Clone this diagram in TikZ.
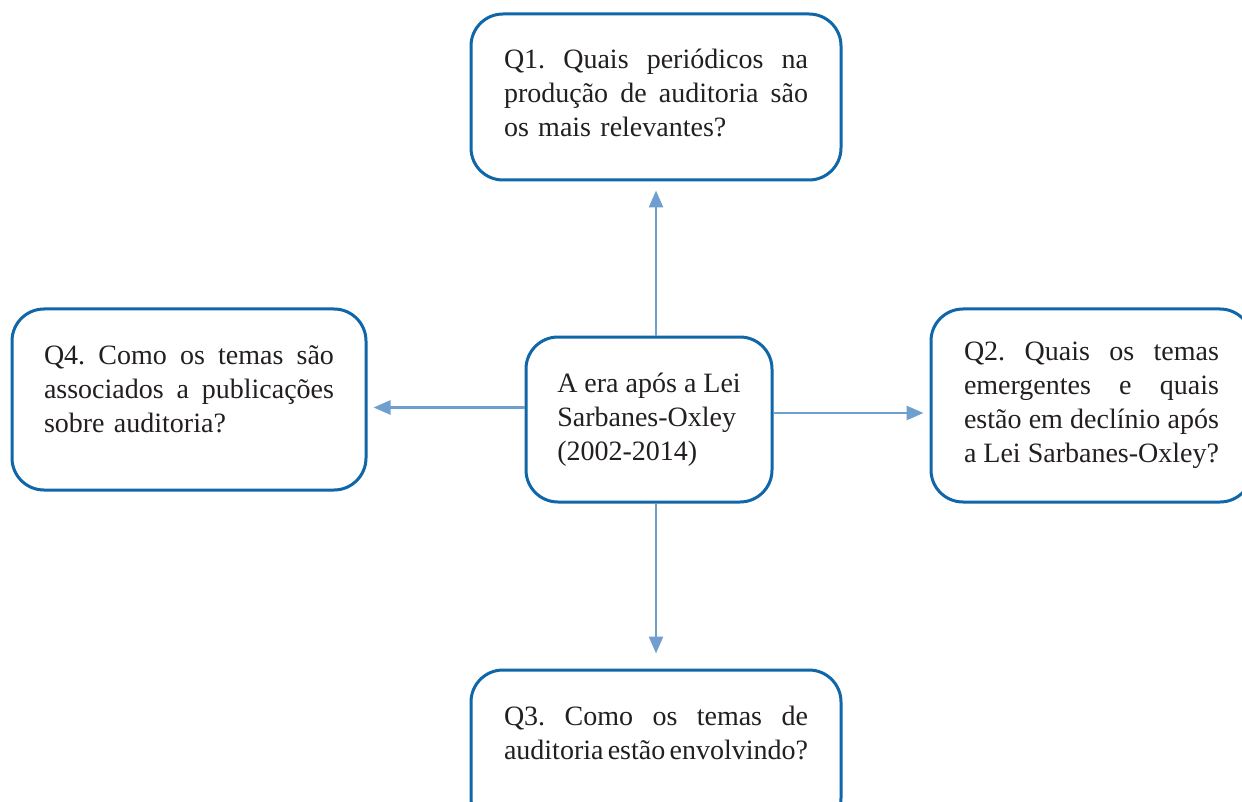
\documentclass[tikz,border=0pt]{standalone}
\usepackage{fontspec}
\setmainfont{Liberation Serif}
\usetikzlibrary{arrows.meta,calc}
\definecolor{boxblue}{RGB}{15,102,168}
\definecolor{arrblue}{RGB}{110,159,206}
\definecolor{txtcol}{RGB}{35,31,32}
\newcommand{\jl}[2]{\leavevmode\hbox to #1{#2}}
\begin{document}
\begin{tikzpicture}[x=1pt,y=-1pt,
  qbox/.style={draw=boxblue, line width=3pt, rounded corners=32pt, fill=white,
    align=left, text=txtcol, font=\fontsize{28pt}{34pt}\selectfont\frenchspacing, inner sep=0pt},
  arr/.style={draw=arrblue, line width=2.7pt, -{Triangle[length=17pt,width=14pt]}}]
\useasboundingbox (0,0) rectangle (1242,802);
\clip (0,0) rectangle (1242,802);

\node[qbox, minimum width=370pt, minimum height=166pt, text width=304pt] (q1) at (656,97)
  {\jl{304pt}{Q1.\hfill Quais\hfill periódicos\hfill na}\\
   \jl{304pt}{produção\hfill de\hfill auditoria\hfill são}\\
   os mais relevantes?\rule[-8pt]{0pt}{0pt}};

\node[qbox, minimum width=246pt, minimum height=165pt] (c) at (649,419.5)
  {A era após a Lei\\ Sarbanes-Oxley\\ (2002-2014)};

\node[qbox, minimum width=354pt, minimum height=181pt, text width=290pt] (q4) at (189,399.5)
  {\jl{290pt}{Q4.\hfill Como\hfill os\hfill temas\hfill são}\\
   \jl{290pt}{associados\hfill a\hfill publicações}\\
   sobre auditoria?\rule[-20pt]{0pt}{0pt}};

\node[qbox, minimum width=321pt, minimum height=193pt, text width=255pt] (q2) at (1091.5,405.5)
  {\jl{255pt}{Q2.\hfill Quais\hfill os\hfill temas}\\
   \jl{255pt}{emergentes\hfill e\hfill quais}\\
   \jl{255pt}{estão\hfill em\hfill declínio\hfill após}\\
   \jl{255pt}{a\hfill Lei\hfill Sarbanes-Oxley?}};

\node[qbox, minimum width=370pt, minimum height=160pt, text width=304pt] (q3) at (656,750)
  {\jl{304pt}{Q3.\hfill Como\hfill os\hfill temas\hfill de}\\
   \jl{304pt}{auditoria\hfill estão\hfill envolvindo?}\rule[-35pt]{0pt}{0pt}};

\coordinate (cu) at (c.north -| q1.south);
\draw[arr, shorten >=9pt] (cu) -- (cu |- q1.south);
\coordinate (cd) at (c.south -| q3.north);
\draw[arr, shorten >=15pt] (cd) -- (cd |- q3.north);
\coordinate (cl) at ($(c.west)+(0,-12)$);
\draw[arr, shorten >=6pt] (cl) -- (cl -| q4.east);
\coordinate (cr) at ($(c.east)+(0,-6.5)$);
\draw[arr, shorten >=6pt] (cr) -- (cr -| q2.west);
\end{tikzpicture}
\end{document}
